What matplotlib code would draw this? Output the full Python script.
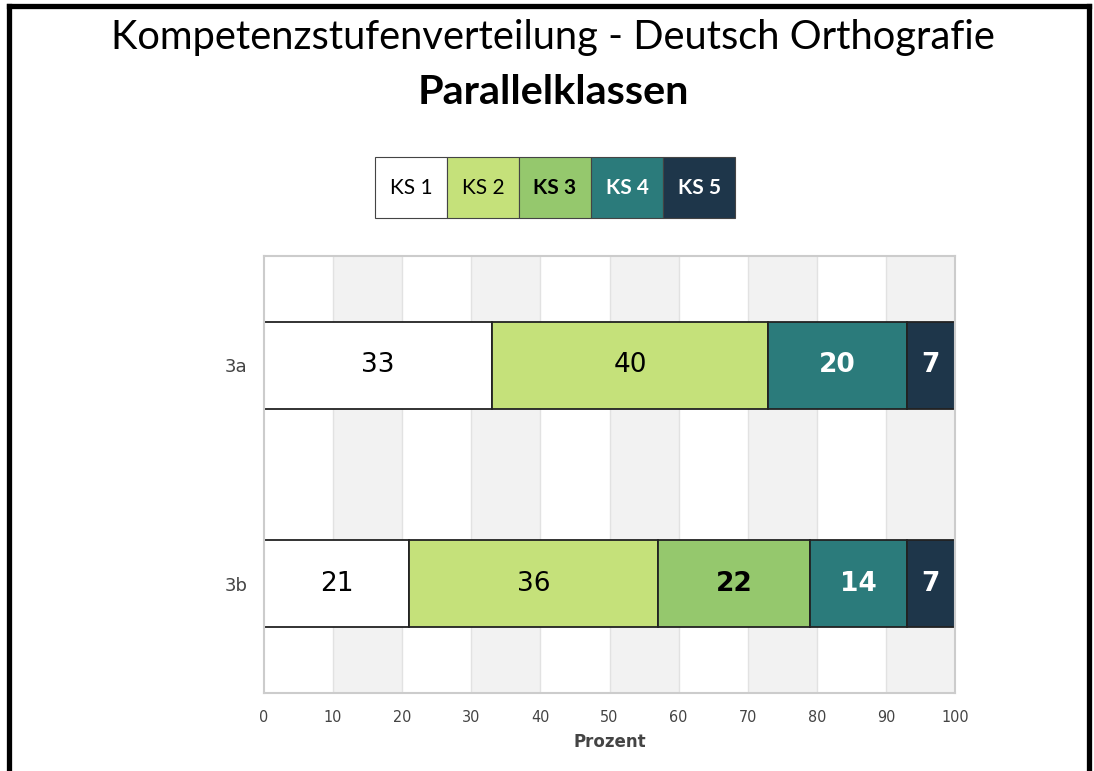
import numpy as np
import matplotlib.pyplot as plt
from matplotlib.patches import Rectangle
from matplotlib.lines import Line2D

# --- Daten ---
klassen = ['3a', '3b']
ks1 = [33, 21]
ks2 = [40, 36]
ks3 = [0, 22]
ks4 = [20, 14]
ks5 = [7, 7]
stufen = ['KS 1', 'KS 2', 'KS 3', 'KS 4', 'KS 5']
x_ticks = [0, 10, 20, 30, 40, 50, 60, 70, 80, 90, 100]

farben = ['#ffffff', '#c5e17a', '#95c86d', '#2b7b7b', '#1e364a']
text_farben = ['black', 'black', 'black', 'white', 'white']
text_fett = ['normal', 'normal', 'bold', 'bold', 'bold']

W, H = 1094, 771
fig = plt.figure(figsize=(W / 100, H / 100), dpi=100)

# Rahmen (links, oben, rechts) in Pixelkoordinaten
def px_line(x0, y0, x1, y1):
    fig.add_artist(Line2D([x0 / W, x1 / W], [1 - y0 / H, 1 - y1 / H],
                          color='black', lw=3.8, solid_capstyle='projecting'))

px_line(8.5, 5.5, 8.5, H + 5)
px_line(8.5, 5.5, 1089, 5.5)
px_line(1089, 5.5, 1089, H + 5)

# Titel
fig.text(553 / W, 1 - 38 / H, 'Kompetenzstufenverteilung - Deutsch Orthografie',
         ha='center', va='center', fontsize=28.7, family='Lato')
fig.text(553 / W, 1 - 92 / H, 'Parallelklassen', ha='center', va='center',
         fontsize=29.8, family='Lato', fontweight='bold')

# Legende als Kästchen
box_w, box_x0, box_y0, box_y1 = 72, 375, 157, 218
for i, name in enumerate(stufen):
    x0 = box_x0 + i * box_w
    fig.add_artist(Rectangle((x0 / W, 1 - box_y1 / H), box_w / W, (box_y1 - box_y0) / H,
                             facecolor=farben[i], edgecolor='#444444', lw=0.8))
    fig.text((x0 + box_w / 2) / W, 1 - (box_y0 + box_y1) / 2 / H, name, ha='center', va='center',
             fontsize=15, family='Lato', color=text_farben[i], fontweight=text_fett[i])

# Diagramm
ax = fig.add_axes([264 / W, 1 - 693 / H, (955 - 264) / W, (693 - 256) / H])
for x in range(10, 100, 20):
    ax.axvspan(x, x + 10, color='#f2f2f2', zorder=0, lw=0)
for x in x_ticks[1:-1]:
    ax.axvline(x, color='#e2e2e2', lw=1, zorder=0.5)

y = np.arange(len(klassen))
links = np.zeros(len(klassen))
for i, werte in enumerate([ks1, ks2, ks3, ks4, ks5]):
    werte = np.array(werte)
    ax.barh(y, werte, left=links, height=0.4, color=farben[i], edgecolor='#222222', lw=1.3, zorder=2)
    for j, w in enumerate(werte):
        if w > 0:
            ax.text(links[j] + w / 2, y[j], str(w), ha='center', va='center', fontsize=19,
                    color=text_farben[i], fontweight=text_fett[i], zorder=3)
    links += werte

ax.set_xlim(0, 100)
ax.set_ylim(1.5, -0.5)
ax.set_yticks(y)
ax.set_yticklabels(klassen)
ax.set_xticks(x_ticks)
ax.tick_params(length=0, labelcolor='#444444')
ax.tick_params(axis='x', pad=12, labelsize=11.5)
ax.tick_params(axis='y', pad=12, labelsize=13)
for lbl in ax.get_xticklabels():
    lbl.set_fontstretch('condensed')
for s in ax.spines.values():
    s.set_color('#cccccc')
    s.set_linewidth(1.5)
ax.set_xlabel('Prozent', fontsize=12, fontweight='bold', color='#444444', labelpad=6)

fig.savefig('out.png', dpi=100)
